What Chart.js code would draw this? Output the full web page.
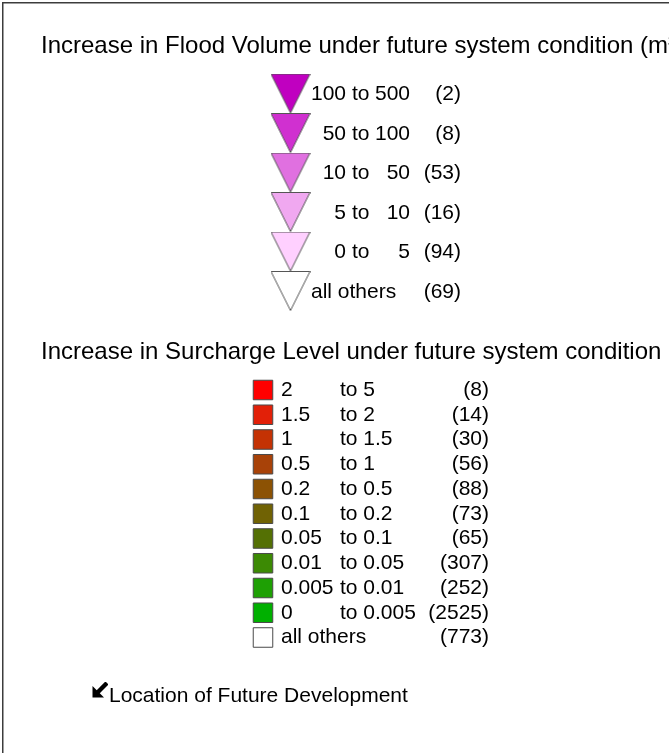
<!DOCTYPE html>
<html><head><meta charset="utf-8">
<script src="https://cdn.jsdelivr.net/npm/chart.js@4/dist/chart.umd.min.js"></script>
<style>html,body{margin:0;padding:0;background:#fff;overflow:hidden}canvas{display:block}</style>
</head><body>
<canvas id="c" width="669" height="753"></canvas>
<script>
// ---------------- data ----------------
const floodTitle = 'Increase in Flood Volume under future system condition (m³)';
const floodFrom = ['100', '50', '10', '5', '0'];
const floodTo = ['500', '100', '50', '10', '5'];
const floodCounts = [2, 8, 53, 16, 94];
const floodOthersLabel = 'all others';
const floodOthersCount = 69;
const floodColors = ['#C000C0', '#D030D0', '#E070E0', '#F0A8F0', '#FFD0FF', '#FFFFFF'];

const surchargeTitle = 'Increase in Surcharge Level under future system condition (m)';
const surchargeFrom = ['2', '1.5', '1', '0.5', '0.2', '0.1', '0.05', '0.01', '0.005', '0'];
const surchargeTo = ['5', '2', '1.5', '1', '0.5', '0.2', '0.1', '0.05', '0.01', '0.005'];
const surchargeCounts = [8, 14, 30, 56, 88, 73, 65, 307, 252, 2525];
const surchargeOthersLabel = 'all others';
const surchargeOthersCount = 773;
const surchargeColors = ['#FF0000', '#E22008', '#C43204', '#A84208', '#8C5204', '#706204', '#547004', '#3C8A04', '#1EA004', '#00B000', '#FFFFFF'];

const locationLabel = 'Location of Future Development';

// ---------------- layout ----------------
const W = 669, H = 753;
const FONT = '"Liberation Sans", Arial, Helvetica, sans-serif';
const LAY = {
  titleX: 41, title1Base: 52.5, title2Base: 359, titleSize: 24, textSize: 21,
  floodTop: 93.5, floodRow: 39.5, floodMarkX: 290.5,
  fNum1R: 346, fToL: 352, fNum2R: 410, fCountR: 461, fOthersL: 311, fTextDy: 1,
  surTop: 390, surRow: 24.75, surMarkX: 263,
  sNum1L: 281, sToL: 340, sCountR: 489,
  locTop: 690, arrowX: 100, locTextX: 109, locTextDy: 6
};

function rowScale(top, row) {
  return { type: 'linear', display: false, reverse: true, min: -top / row, max: (H - top) / row };
}

function makeTriangle(fill) {
  const c = document.createElement('canvas');
  c.width = 40; c.height = 40;
  const g = c.getContext('2d');
  g.beginPath();
  g.moveTo(0.5, 0.5); g.lineTo(39.5, 0.5); g.lineTo(20, 39.5); g.closePath();
  g.fillStyle = fill; g.fill();
  g.strokeStyle = '#555555'; g.lineWidth = 1; g.stroke();
  return c;
}
function makeArrow() {
  const c = document.createElement('canvas');
  c.width = 16; c.height = 16;
  const g = c.getContext('2d');
  g.fillStyle = '#000';
  g.beginPath(); g.moveTo(0.5, 15.5); g.lineTo(0.5, 4); g.lineTo(12, 15.5); g.closePath(); g.fill();
  g.strokeStyle = '#000'; g.lineWidth = 4.4; g.lineCap = 'butt';
  g.beginPath(); g.moveTo(4, 12); g.lineTo(15, 1); g.stroke();
  return c;
}

const floodRows = floodColors.map((_, i) => ({ x: LAY.floodMarkX, y: i }));
const surRows = surchargeColors.map((_, i) => ({ x: LAY.surMarkX, y: i }));

const textPlugin = {
  id: 'legendText',
  afterDraw(chart) {
    const ctx = chart.ctx;
    const yF = chart.scales.yF, yS = chart.scales.yS, yL = chart.scales.yL;
    ctx.save();
    // frame
    ctx.strokeStyle = '#3c3c3c'; ctx.lineWidth = 1.5;
    ctx.beginPath(); ctx.moveTo(2.75, H); ctx.lineTo(2.75, 2.75); ctx.lineTo(W, 2.75); ctx.stroke();

    ctx.fillStyle = '#000';
    ctx.textBaseline = 'alphabetic';
    ctx.font = LAY.titleSize + 'px ' + FONT;
    ctx.textAlign = 'left';
    ctx.fillText(floodTitle, LAY.titleX, LAY.title1Base);
    ctx.fillText(surchargeTitle, LAY.titleX, LAY.title2Base);

    ctx.font = LAY.textSize + 'px ' + FONT;
    ctx.textBaseline = 'middle';
    floodFrom.forEach((f, i) => {
      const y = yF.getPixelForValue(i) + LAY.fTextDy;
      ctx.textAlign = 'right'; ctx.fillText(f, LAY.fNum1R, y);
      ctx.textAlign = 'left'; ctx.fillText('to', LAY.fToL, y);
      ctx.textAlign = 'right'; ctx.fillText(floodTo[i], LAY.fNum2R, y);
      ctx.fillText('(' + floodCounts[i] + ')', LAY.fCountR, y);
    });
    {
      const y = yF.getPixelForValue(floodFrom.length) + LAY.fTextDy;
      ctx.textAlign = 'left'; ctx.fillText(floodOthersLabel, LAY.fOthersL, y);
      ctx.textAlign = 'right'; ctx.fillText('(' + floodOthersCount + ')', LAY.fCountR, y);
    }
    surchargeFrom.forEach((f, i) => {
      const y = yS.getPixelForValue(i);
      ctx.textAlign = 'left'; ctx.fillText(f, LAY.sNum1L, y);
      ctx.fillText('to ' + surchargeTo[i], LAY.sToL, y);
      ctx.textAlign = 'right'; ctx.fillText('(' + surchargeCounts[i] + ')', LAY.sCountR, y);
    });
    {
      const y = yS.getPixelForValue(surchargeFrom.length);
      ctx.textAlign = 'left'; ctx.fillText(surchargeOthersLabel, LAY.sNum1L, y);
      ctx.textAlign = 'right'; ctx.fillText('(' + surchargeOthersCount + ')', LAY.sCountR, y);
    }
    ctx.textAlign = 'left';
    ctx.fillText(locationLabel, LAY.locTextX, yL.getPixelForValue(0) + LAY.locTextDy);
    ctx.restore();
  }
};

new Chart(document.getElementById('c'), {
  type: 'scatter',
  data: {
    datasets: [
      {
        label: 'Flood volume', data: floodRows, yAxisID: 'yF',
        pointStyle: floodColors.map(makeTriangle),
        pointRadius: 20, pointHoverRadius: 20
      },
      {
        label: 'Surcharge level', data: surRows, yAxisID: 'yS',
        pointStyle: 'rect', pointRadius: 13.8, pointHoverRadius: 13.8,
        backgroundColor: surchargeColors, borderColor: '#4a4a4a', borderWidth: 1
      },
      {
        label: locationLabel, data: [{ x: LAY.arrowX, y: 0 }], yAxisID: 'yL',
        pointStyle: makeArrow(), pointRadius: 8
      }
    ]
  },
  options: {
    responsive: false, animation: false, events: [],
    layout: { padding: 0, autoPadding: false },
    plugins: { legend: { display: false }, tooltip: { enabled: false }, title: { display: false } },
    scales: {
      x: { type: 'linear', display: false, min: 0, max: W },
      yF: rowScale(LAY.floodTop, LAY.floodRow),
      yS: rowScale(LAY.surTop, LAY.surRow),
      yL: rowScale(LAY.locTop, LAY.surRow)
    }
  },
  plugins: [textPlugin]
});
</script>
</body></html>
